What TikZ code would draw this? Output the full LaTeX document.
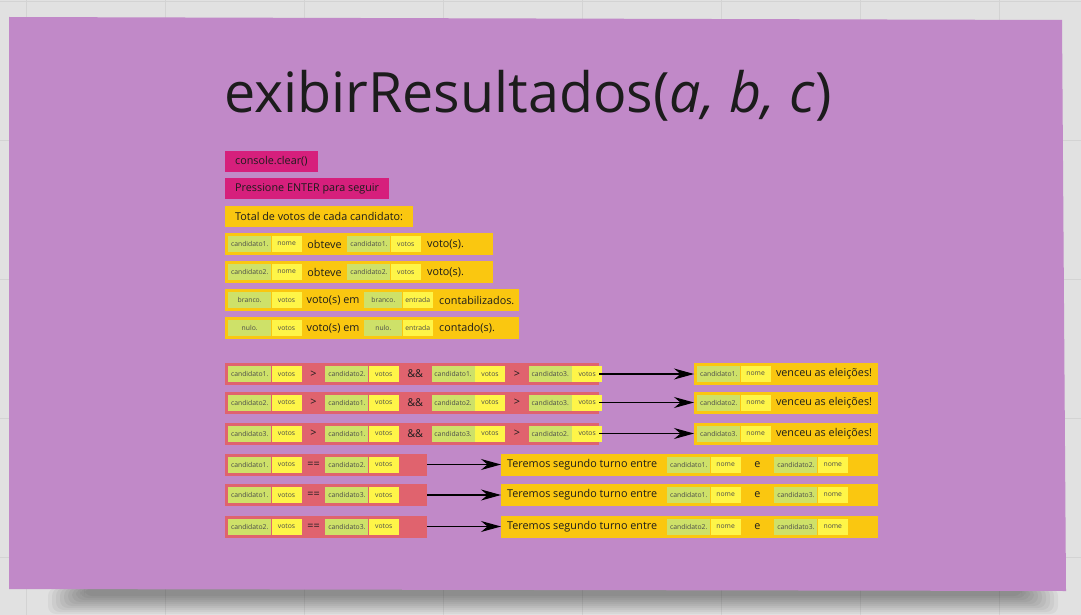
\documentclass[tikz,border=0pt]{standalone}
\usepackage{fontspec}
\setmainfont{Open Sans}
\usepackage{tikz}
\usetikzlibrary{positioning, arrows.meta}
\usepackage{xcolor}
\definecolor{board}{HTML}{E1E1E1}
\definecolor{gridgray}{HTML}{D3D3D3}
\definecolor{notepurple}{HTML}{C189C8}
\definecolor{magent}{HTML}{D61F7C}
\definecolor{amber}{HTML}{FAC710}
\definecolor{coral}{HTML}{E0636E}
\definecolor{lime}{HTML}{CEE169}
\definecolor{pale}{HTML}{FEF548}
\definecolor{ink}{HTML}{1C1C1C}
\definecolor{tagink}{HTML}{4A4A4A}

\tikzset{
  cmdbox/.style={fill=magent, anchor=west, minimum height=21pt, inner xsep=10pt, inner ysep=0pt, text=ink},
  linebox/.style={fill=amber, anchor=west, minimum height=22pt, inner sep=0pt},
  condbox/.style={fill=coral, anchor=west, minimum height=22pt, inner sep=0pt},
  varbox/.style={fill=lime, minimum width=43pt, minimum height=16pt, inner sep=0pt, font=\fontsize{6.8}{8}\selectfont, text=tagink},
  fldbox/.style={fill=pale, minimum width=30pt, minimum height=16pt, inner sep=0pt, font=\fontsize{6.8}{8}\selectfont, text=tagink},
  gap/.style={minimum width=23pt, inner sep=0pt, text=ink},
  txt/.style={inner sep=0pt, text=ink},
  title/.style={inner sep=0pt, text=ink, font=\fontsize{55.6}{62}\selectfont},
  flow/.style={-{Stealth[length=20pt, width=11pt]}, line width=1.1pt, black},
  gridline/.style={draw=gridgray, line width=0.8pt},
}

% a variable tag: name part and field part
\newcommand{\pair}[4]{%
  \node[varbox, #1] (#2) {#3};
  \node[fldbox, right=0pt of #2] (#2f) {#4};}

\begin{document}
\begin{tikzpicture}[x=1pt, y=-1pt, every node/.style={font=\fontsize{10.8}{13}\selectfont}]
  \useasboundingbox (0,0) rectangle (1081,615);
  \fill[board] (0,0) rectangle (1081,615);
  \foreach \x in {26,165,...,1081} \draw[gridline] (\x,0) -- (\x,615);
  \foreach \y in {1,140,...,615} \draw[gridline] (0,\y) -- (1081,\y);

  % sticky note with soft shadow
  \foreach \k in {0,...,9}
    \fill[black, opacity=0.045, rounded corners=8pt] (48+\k*4,588) rectangle (1058-\k*4,614-\k*2);
  \fill[notepurple] (9,17) -- (1062,20) -- (1066,591) -- (9,589) -- cycle;

  \node[title, anchor=base west] (ttl) at (224,113) {exibirResultados(\textit{a, b, c})};

  % prompts
  \node[cmdbox] (clr) at (225,161) {console.clear()};
  \node[cmdbox] (ent) at (225,188.5) {Pressione ENTER para seguir};
  \node[cmdbox, fill=amber] (tot) at (225,216) {Total de votos de cada candidato:};

  % totals
  \node[linebox, minimum width=268pt] (l1) at (225,244) {};
  \pair{right=3pt of l1.west}{l1-a}{candidato1.}{nome}
  \node[gap, minimum width=45pt, right=0pt of l1-af] (l1-b) {obteve};
  \pair{right=0pt of l1-b}{l1-c}{candidato1.}{votos}
  \node[txt, right=6pt of l1-cf] (l1-d) {voto(s).};

  \node[linebox, minimum width=268pt] (l2) at (225,272) {};
  \pair{right=3pt of l2.west}{l2-a}{candidato2.}{nome}
  \node[gap, minimum width=45pt, right=0pt of l2-af] (l2-b) {obteve};
  \pair{right=0pt of l2-b}{l2-c}{candidato2.}{votos}
  \node[txt, right=6pt of l2-cf] (l2-d) {voto(s).};

  \node[linebox, minimum width=294pt] (l3) at (225,300) {};
  \pair{right=3pt of l3.west}{l3-a}{branco.}{votos}
  \node[gap, minimum width=62pt, right=0pt of l3-af] (l3-b) {voto(s) em};
  \pair{right=0pt of l3-b, minimum width=38pt}{l3-c}{branco.}{entrada}
  \node[txt, right=6pt of l3-cf] (l3-d) {contabilizados.};

  \node[linebox, minimum width=294pt] (l4) at (225,328) {};
  \pair{right=3pt of l4.west}{l4-a}{nulo.}{votos}
  \node[gap, minimum width=62pt, right=0pt of l4-af] (l4-b) {voto(s) em};
  \pair{right=0pt of l4-b, minimum width=38pt}{l4-c}{nulo.}{entrada}
  \node[txt, right=6pt of l4-cf] (l4-d) {contado(s).};

  % winner checks
  \foreach \i/\y/\p/\q/\r in {1/374/1/2/3, 2/402.5/2/1/3, 3/433.5/3/1/2} {
    \node[condbox, minimum width=374pt] (c\i) at (225,\y) {};
    \pair{right=3pt of c\i.west}{c\i-a}{candidato\p.}{votos}
    \node[gap, right=0pt of c\i-af] (c\i-b) {>};
    \pair{right=0pt of c\i-b}{c\i-c}{candidato\q.}{votos}
    \node[gap, minimum width=32pt, right=0pt of c\i-cf] (c\i-d) {\&\&};
    \pair{right=0pt of c\i-d}{c\i-e}{candidato\p.}{votos}
    \node[gap, right=0pt of c\i-ef] (c\i-f) {>};
    \pair{right=0pt of c\i-f}{c\i-g}{candidato\r.}{votos}
    \node[linebox, minimum width=184pt] (w\i) at (694,\y) {};
    \pair{right=3pt of w\i.west}{w\i-a}{candidato\p.}{nome}
    \node[txt, right=5pt of w\i-af] (w\i-b) {venceu as eleições!};
    \draw[flow] (c\i) -- (w\i);
  }

  % ties
  \foreach \i/\y/\p/\q in {4/464.5/1/2, 5/495/1/3, 6/526.5/2/3} {
    \node[condbox, minimum width=202pt] (c\i) at (225,\y) {};
    \pair{right=3pt of c\i.west}{c\i-a}{candidato\p.}{votos}
    \node[gap, right=0pt of c\i-af] (c\i-b) {==};
    \pair{right=0pt of c\i-b}{c\i-c}{candidato\q.}{votos}
    \node[linebox, minimum width=377pt] (w\i) at (501,\y) {};
    \node[txt, right=6pt of w\i.west] (w\i-a) {Teremos segundo turno entre};
    \pair{right=166pt of w\i.west}{w\i-b}{candidato\p.}{nome}
    \node[gap, minimum width=33pt, right=0pt of w\i-bf] (w\i-c) {e};
    \pair{right=0pt of w\i-c}{w\i-d}{candidato\q.}{nome}
    \draw[flow] (c\i) -- (w\i);
  }
\end{tikzpicture}
\end{document}
